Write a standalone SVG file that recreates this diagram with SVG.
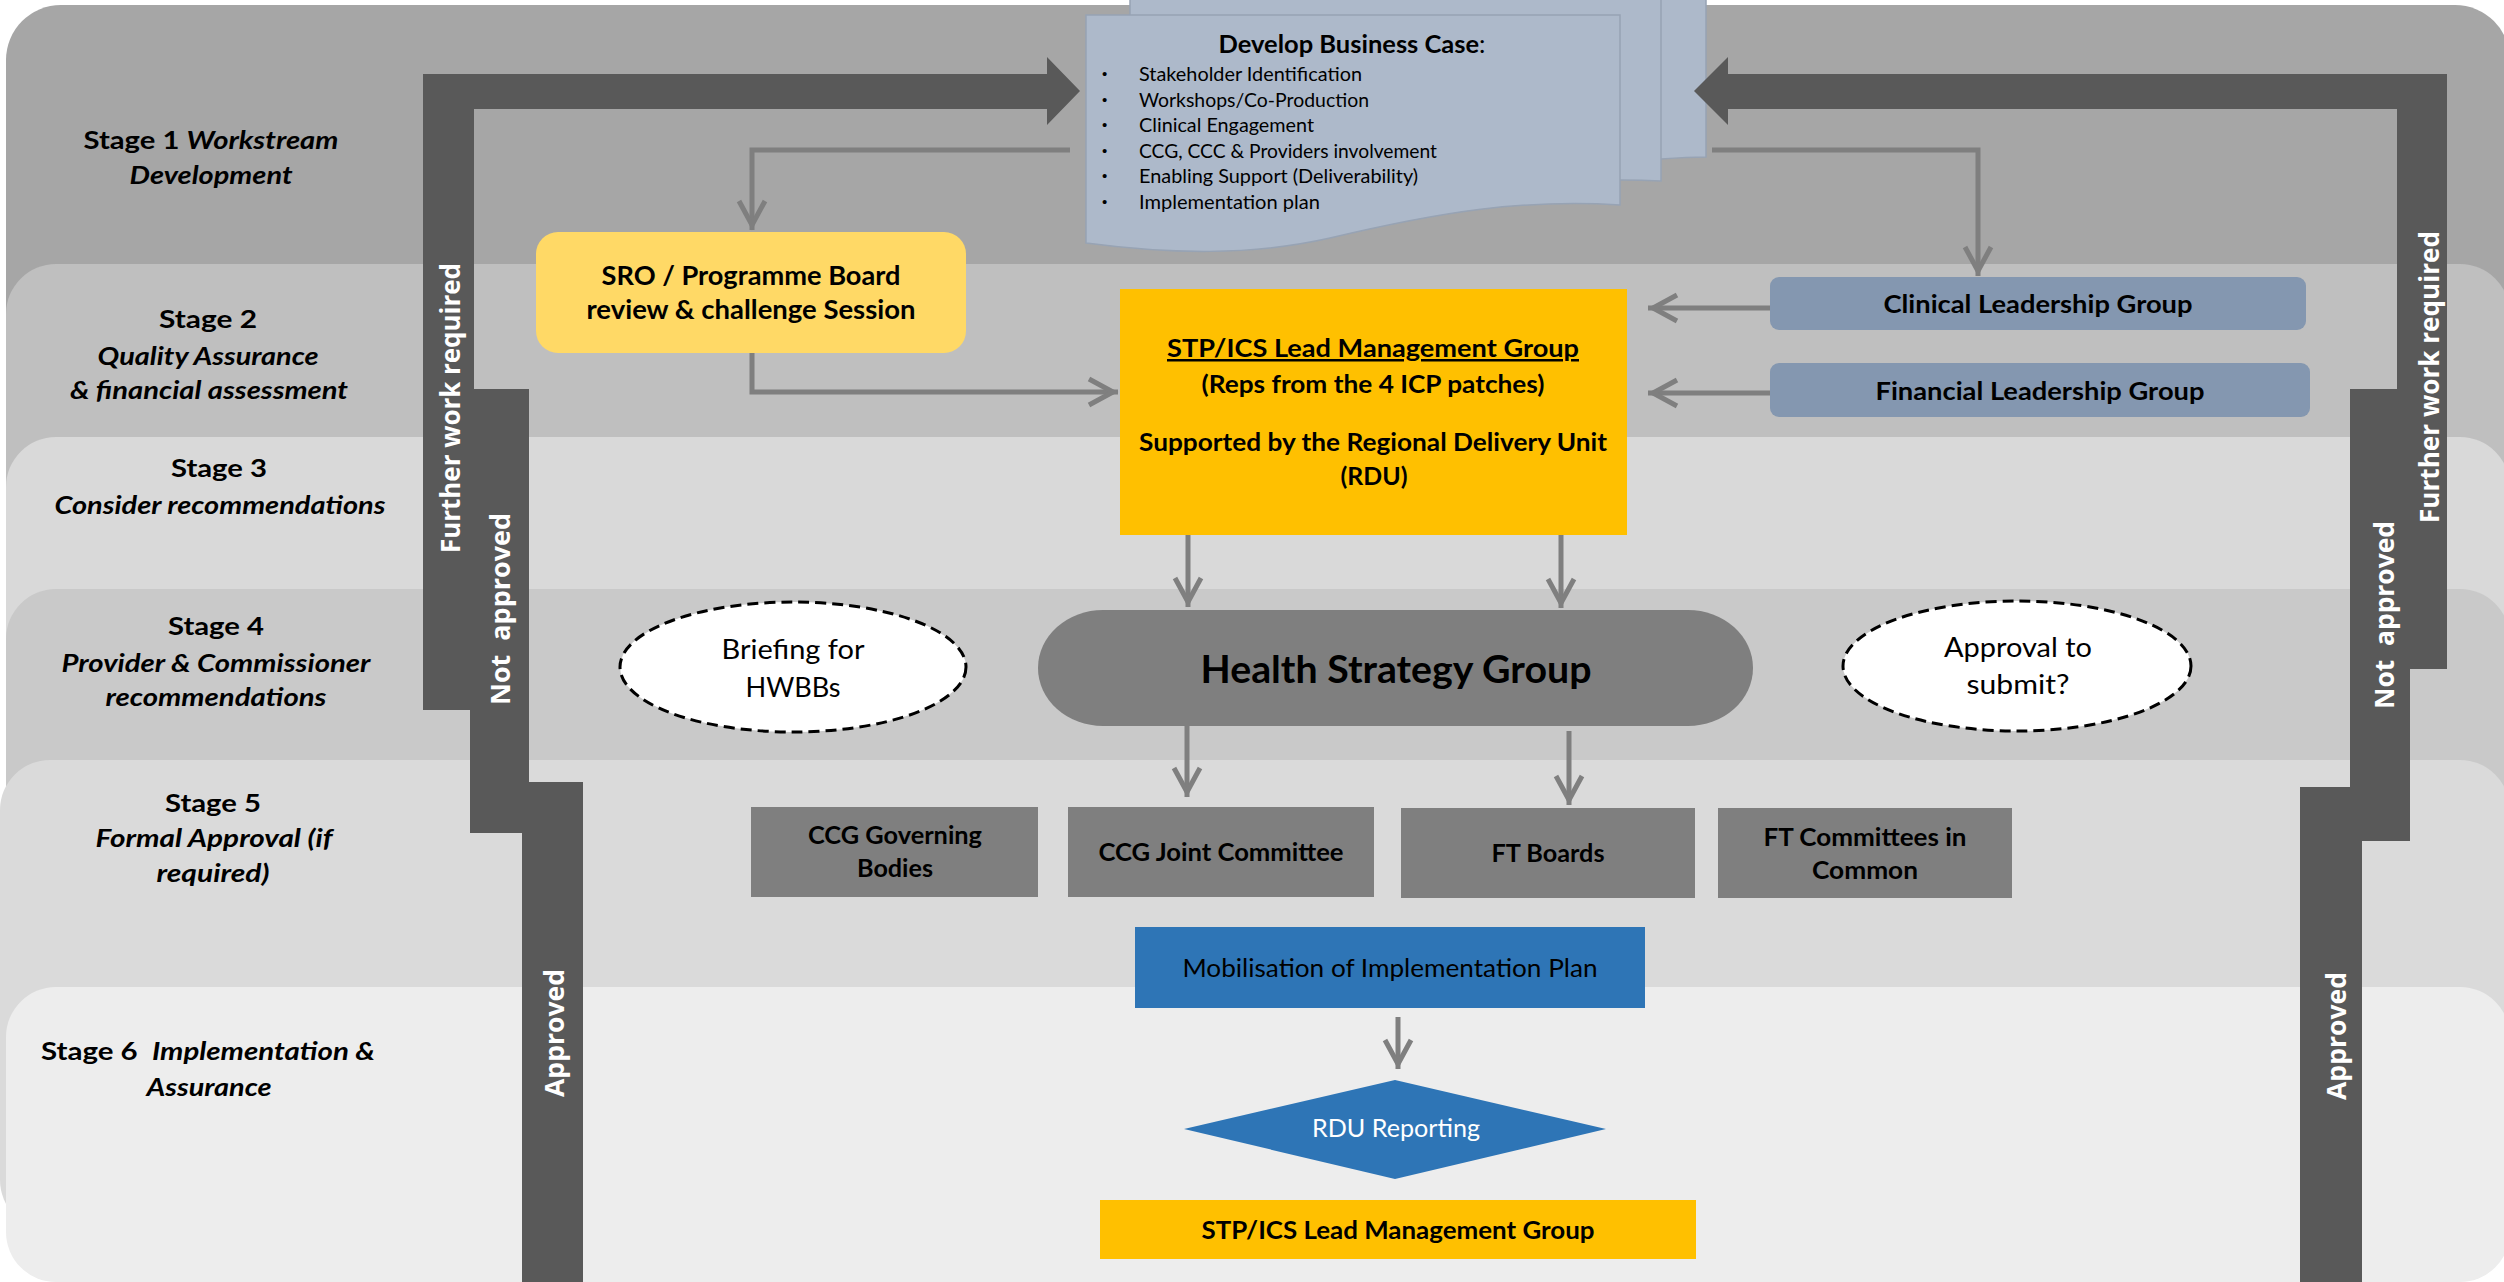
<svg xmlns="http://www.w3.org/2000/svg" width="2504" height="1282" viewBox="0 0 2504 1282">
<defs>
<marker id="ah" markerUnits="userSpaceOnUse" markerWidth="44" markerHeight="44" viewBox="-34 -22 44 44" refX="5" refY="0" orient="auto">
<path d="M-24,-13 L0,0 L-24,13" fill="none" stroke="#7f7f7f" stroke-width="5"/>
</marker>
<style>
.t { font-family: Lato, "Liberation Sans", Arial, sans-serif; fill: #000; text-anchor: middle; }
.b { font-weight: 700; }
.i { font-style: italic; }
.st { font-size: 25px; font-weight: 700; }
.bul { font-family: Lato, "Liberation Sans", Arial, sans-serif; font-size: 20px; fill: #000; }
.dot { font-family: "Liberation Sans", Arial, sans-serif; font-size: 15px; fill: #000; }
.rot { font-family: "Open Sans", "DejaVu Sans", sans-serif; font-weight: 700; font-size: 26px; fill: #fff; text-anchor: middle; }
.conn { fill: none; stroke: #7f7f7f; stroke-width: 5; marker-end: url(#ah); }
.loop { fill: #595959; }
.doc { fill: #adb9ca; stroke: #97a3b4; stroke-width: 1.5; }
.grey { fill: #7f7f7f; }
.blue { fill: #2e75b6; }
.ell { fill: #fff; stroke: #000; stroke-width: 3; stroke-dasharray: 11 6; }
</style>
</defs>
<rect width="2504" height="1282" fill="#fff"/>

<g id="bands">
<rect x="6" y="5" width="2504" height="420" rx="55" fill="#a6a6a6"/>
<rect x="6" y="264" width="2504" height="300" rx="50" fill="#bfbfbf"/>
<rect x="6" y="437" width="2504" height="300" rx="50" fill="#d9d9d9"/>
<rect x="6" y="589" width="2504" height="471" rx="50" fill="#c9c9c9"/>
<rect x="0" y="760" width="2510" height="470" rx="50" fill="#dadada"/>
<rect x="6" y="987" width="2504" height="295" rx="50" fill="#ededed"/>
</g>

<g id="stage-labels" class="t st">
<text x="211" y="149" textLength="255" lengthAdjust="spacingAndGlyphs">Stage 1 <tspan class="i">Workstream</tspan></text>
<text x="211" y="184" class="i" textLength="163" lengthAdjust="spacingAndGlyphs">Development</text>
<text x="208" y="328" textLength="98" lengthAdjust="spacingAndGlyphs">Stage 2</text>
<text x="208" y="365" class="i" textLength="221" lengthAdjust="spacingAndGlyphs">Quality Assurance</text>
<text x="209" y="399" class="i" textLength="278" lengthAdjust="spacingAndGlyphs">&amp; financial assessment</text>
<text x="219" y="477" textLength="96" lengthAdjust="spacingAndGlyphs">Stage 3</text>
<text x="220" y="514" class="i" textLength="331" lengthAdjust="spacingAndGlyphs">Consider recommendations</text>
<text x="216" y="635" textLength="96" lengthAdjust="spacingAndGlyphs">Stage 4</text>
<text x="216" y="672" class="i" textLength="309" lengthAdjust="spacingAndGlyphs">Provider &amp; Commissioner</text>
<text x="216" y="706" class="i" textLength="221" lengthAdjust="spacingAndGlyphs">recommendations</text>
<text x="213" y="812" textLength="96" lengthAdjust="spacingAndGlyphs">Stage 5</text>
<text x="214" y="847" class="i" textLength="237" lengthAdjust="spacingAndGlyphs">Formal Approval (if</text>
<text x="213" y="882" class="i" textLength="113" lengthAdjust="spacingAndGlyphs">required)</text>
<text x="208" y="1060" xml:space="preserve" textLength="334" lengthAdjust="spacingAndGlyphs">Stage 6  <tspan class="i">Implementation &amp;</tspan></text>
<text x="209" y="1096" class="i" textLength="125" lengthAdjust="spacingAndGlyphs">Assurance</text>
</g>

<g id="business-case">
<path class="doc" d="M1174,-20 H1706 V157 C1690,157 1675,158 1661,159 L1174,175 Z"/>
<path class="doc" d="M1130,-20 H1661 V181 C1560,176 1480,190 1380,213 L1130,213 Z"/>
<path class="doc" d="M1086,15 H1620 V205 C1520,199 1440,212 1330,238 C1250,256 1170,254 1086,243 Z"/>
<text class="t" x="1352" y="53" font-size="25" textLength="267" lengthAdjust="spacingAndGlyphs"><tspan class="b">Develop Business Case</tspan><tspan font-weight="400">:</tspan></text>
<g class="dot">
<text x="1102" y="79">•</text>
<text x="1102" y="104.5">•</text>
<text x="1102" y="130">•</text>
<text x="1102" y="155.5">•</text>
<text x="1102" y="181">•</text>
<text x="1102" y="206.5">•</text>
</g>
<g class="bul">
<text x="1139" y="81" textLength="223" lengthAdjust="spacingAndGlyphs">Stakeholder Identification</text>
<text x="1139" y="106.5" textLength="230" lengthAdjust="spacingAndGlyphs">Workshops/Co-Production</text>
<text x="1139" y="132" textLength="175" lengthAdjust="spacingAndGlyphs">Clinical Engagement</text>
<text x="1139" y="157.5" textLength="298" lengthAdjust="spacingAndGlyphs">CCG, CCC &amp; Providers involvement</text>
<text x="1139" y="183" textLength="279" lengthAdjust="spacingAndGlyphs">Enabling Support (Deliverability)</text>
<text x="1139" y="208.5" textLength="181" lengthAdjust="spacingAndGlyphs">Implementation plan</text>
</g>
</g>

<g id="connectors">
<g id="loops">
<polygon class="loop" points="423,710 423,74 1047,74 1047,57 1080,91 1047,125 1047,109 474,109 474,710"/>
<rect class="loop" x="470" y="389" width="59" height="444"/>
<rect class="loop" x="522" y="782" width="61" height="500"/>
<polygon class="loop" points="2447,669 2447,74 1728,74 1728,57 1694,91 1728,125 1728,109 2397,109 2397,669"/>
<rect class="loop" x="2350" y="389" width="60" height="452"/>
<rect class="loop" x="2300" y="787" width="62" height="495"/>
<text class="rot" transform="translate(460,408) rotate(-90)" textLength="290" lengthAdjust="spacingAndGlyphs">Further work required</text>
<text class="rot" transform="translate(510,609) rotate(-90)" xml:space="preserve" textLength="192" lengthAdjust="spacingAndGlyphs">Not  approved</text>
<text class="rot" transform="translate(564,1033) rotate(-90)" textLength="128" lengthAdjust="spacingAndGlyphs">Approved</text>
<text class="rot" transform="translate(2439,377) rotate(-90)" textLength="292" lengthAdjust="spacingAndGlyphs">Further work required</text>
<text class="rot" transform="translate(2394,615) rotate(-90)" xml:space="preserve" textLength="188" lengthAdjust="spacingAndGlyphs">Not  approved</text>
<text class="rot" transform="translate(2346,1036) rotate(-90)" textLength="128" lengthAdjust="spacingAndGlyphs">Approved</text>
</g>
<path class="conn" d="M1070,150 H752 V230"/>
<path class="conn" d="M752,343 V392 H1118"/>
<path class="conn" d="M1712,150 H1978 V276"/>
<path class="conn" d="M1770,308 H1648"/>
<path class="conn" d="M1770,393 H1648"/>
<path class="conn" d="M1188,535 V607"/>
<path class="conn" d="M1561,535 V608"/>
<path class="conn" d="M1187,726 V797"/>
<path class="conn" d="M1569,731 V805"/>
<path class="conn" d="M1398,1017 V1069"/>
</g>

<g id="sro">
<rect x="536" y="232" width="430" height="121" rx="22" fill="#ffd966"/>
<text class="t b" x="751" y="285" font-size="26" textLength="299" lengthAdjust="spacingAndGlyphs">SRO / Programme Board</text>
<text class="t b" x="751" y="319" font-size="26" textLength="329" lengthAdjust="spacingAndGlyphs">review &amp; challenge Session</text>
</g>

<g id="stp-lmg">
<rect x="1120" y="289" width="507" height="246" fill="#ffc000"/>
<text class="t b" x="1373" y="357" font-size="25" text-decoration="underline" textLength="412" lengthAdjust="spacingAndGlyphs">STP/ICS Lead Management Group</text>
<text class="t b" x="1373" y="393" font-size="25" textLength="343" lengthAdjust="spacingAndGlyphs">(Reps from the 4 ICP patches)</text>
<text class="t b" x="1373" y="451" font-size="25" textLength="468" lengthAdjust="spacingAndGlyphs">Supported by the Regional Delivery Unit</text>
<text class="t b" x="1374" y="485" font-size="25" textLength="67" lengthAdjust="spacingAndGlyphs">(RDU)</text>
</g>

<g id="clinical">
<rect x="1770" y="277" width="536" height="53" rx="9" fill="#8497b0"/>
<text class="t b" x="2038" y="313" font-size="25" textLength="309" lengthAdjust="spacingAndGlyphs">Clinical Leadership Group</text>
</g>

<g id="financial">
<rect x="1770" y="363" width="540" height="54" rx="9" fill="#8497b0"/>
<text class="t b" x="2040" y="400" font-size="25" textLength="329" lengthAdjust="spacingAndGlyphs">Financial Leadership Group</text>
</g>

<g id="hsg">
<rect class="grey" x="1038" y="610" width="715" height="116" rx="65" ry="58"/>
<text class="t b" x="1396" y="683" font-size="38" textLength="391" lengthAdjust="spacingAndGlyphs">Health Strategy Group</text>
</g>

<g id="briefing">
<ellipse class="ell" cx="793" cy="667" rx="173" ry="65"/>
<text class="t" x="793" y="659" font-size="27" textLength="143" lengthAdjust="spacingAndGlyphs">Briefing for</text>
<text class="t" x="793" y="697" font-size="27" textLength="95" lengthAdjust="spacingAndGlyphs">HWBBs</text>
</g>

<g id="approval">
<ellipse class="ell" cx="2017" cy="666" rx="174" ry="65"/>
<text class="t" x="2018" y="657" font-size="27" textLength="148" lengthAdjust="spacingAndGlyphs">Approval to</text>
<text class="t" x="2018" y="694" font-size="27" textLength="103" lengthAdjust="spacingAndGlyphs">submit?</text>
</g>

<g id="ccg-gov">
<rect class="grey" x="751" y="807" width="287" height="90"/>
<text class="t b" x="895" y="844" font-size="24" textLength="174" lengthAdjust="spacingAndGlyphs">CCG Governing</text>
<text class="t b" x="895" y="877" font-size="24" textLength="76" lengthAdjust="spacingAndGlyphs">Bodies</text>
</g>

<g id="ccg-joint">
<rect class="grey" x="1068" y="807" width="306" height="90"/>
<text class="t b" x="1221" y="861" font-size="24" textLength="245" lengthAdjust="spacingAndGlyphs">CCG Joint Committee</text>
</g>

<g id="ft-boards">
<rect class="grey" x="1401" y="808" width="294" height="90"/>
<text class="t b" x="1548" y="862" font-size="24" textLength="113" lengthAdjust="spacingAndGlyphs">FT Boards</text>
</g>

<g id="ft-cic">
<rect class="grey" x="1718" y="808" width="294" height="90"/>
<text class="t b" x="1865" y="846" font-size="24" textLength="203" lengthAdjust="spacingAndGlyphs">FT Committees in</text>
<text class="t b" x="1865" y="879" font-size="24" textLength="106" lengthAdjust="spacingAndGlyphs">Common</text>
</g>

<g id="mobilisation">
<rect class="blue" x="1135" y="927" width="510" height="81"/>
<text class="t" x="1390" y="977" font-size="25" fill="#1a1a1a" textLength="415" lengthAdjust="spacingAndGlyphs">Mobilisation of Implementation Plan</text>
</g>

<g id="rdu-reporting">
<polygon class="blue" points="1395,1080 1606,1129 1395,1179 1184,1129"/>
<text class="t" x="1396" y="1137" font-size="25" style="fill:#fff" textLength="168" lengthAdjust="spacingAndGlyphs">RDU Reporting</text>
</g>

<g id="stp-lmg-bottom">
<rect x="1100" y="1200" width="596" height="59" fill="#ffc000"/>
<text class="t b" x="1398" y="1239" font-size="25" textLength="393" lengthAdjust="spacingAndGlyphs">STP/ICS Lead Management Group</text>
</g>
</svg>
